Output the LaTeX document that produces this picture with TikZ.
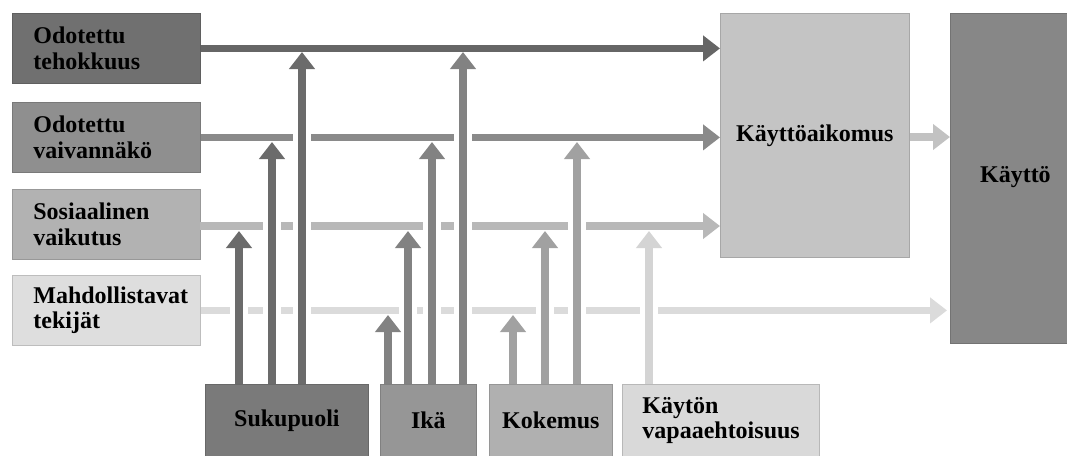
\documentclass[tikz,border=0pt]{standalone}
\usepackage{fontspec}
\setmainfont{Liberation Serif}
\usetikzlibrary{arrows.meta}
\definecolor{boxA}{gray}{0.44}
\definecolor{boxB}{gray}{0.56}
\definecolor{boxC}{gray}{0.70}
\definecolor{boxD}{gray}{0.87}
\definecolor{boxKA}{gray}{0.77}
\definecolor{boxKT}{gray}{0.53}
\definecolor{boxSU}{gray}{0.48}
\definecolor{boxIK}{gray}{0.59}
\definecolor{boxKO}{gray}{0.69}
\definecolor{boxKV}{gray}{0.85}
\definecolor{lnA}{gray}{0.40}
\definecolor{lnB}{gray}{0.54}
\definecolor{lnC}{gray}{0.72}
\definecolor{lnD}{gray}{0.86}
\definecolor{lnKA}{gray}{0.76}
\definecolor{vSU}{gray}{0.42}
\definecolor{vIK}{gray}{0.51}
\definecolor{vKO}{gray}{0.63}
\definecolor{vKV}{gray}{0.83}
\tikzset{
  box/.style={rectangle, draw=#1!85!black, fill=#1, line width=0.8pt, inner sep=0pt,
    font=\bfseries\fontsize{24}{25.5}\selectfont},
  lbox/.style={box=#1, anchor=north west, minimum width=188pt, minimum height=70pt,
    text width=146pt, align=left},
  bbox/.style={box=#1, anchor=north west, minimum height=72pt},
  conn/.style={line width=7.5pt, draw=#1, -{Triangle[width=25pt,length=17pt,fill=#1]}},
}
\begin{document}
\begin{tikzpicture}[x=1pt,y=-1pt]
\clip (0,0) rectangle (1067,455);
\fill[white] (0,0) rectangle (1067,455);
% left boxes
\node[lbox=boxA] (oe) at (12,13) {Odotettu\\tehokkuus};
\node[lbox=boxB] (ov) at (12,102) {Odotettu\\vaivannäkö};
\node[lbox=boxC] (sv) at (12,189) {Sosiaalinen\\vaikutus};
\node[lbox=boxD] (mt) at (12,275) {Mahdollistavat\\tekijät};
% right boxes
\node[box=boxKA, anchor=north west, minimum width=189pt, minimum height=244pt] (ka) at (720,13) {Käyttöaikomus};
\node[box=boxKT, anchor=north west, minimum width=130pt, minimum height=330pt] (kt) at (950,13) {\raisebox{8pt}{Käyttö}};
% bottom boxes
\node[bbox=boxSU, minimum width=163pt] (su) at (205,384) {Sukupuoli};
\node[bbox=boxIK, minimum width=96pt] (ik) at (380,384) {Ikä};
\node[bbox=boxKO, minimum width=123pt] (ko) at (489,384) {Kokemus};
\node[bbox=boxKV, minimum width=197pt, text width=157pt, align=left] (kv) at (622,384) {Käytön\\vapaaehtoisuus};
% horizontal connectors
\draw[conn=lnA] (oe.east) -- (ka.west |- oe.east);
\draw[conn=lnB] (ov.east) -- (ka.west |- ov.east);
\draw[conn=lnC] (200,226) -- (ka.west |- 0,226);
\draw[conn=lnD] (mt.east) -- ([xshift=-3pt]kt.west |- mt.east);
\draw[conn=lnKA] (ka.east |- 0,137) -- (kt.west |- 0,137);
% gaps where vertical arrows cross
\foreach \x/\y in {302/137,463/137,
  272/226,302/226,432/226,463/226,577/226,
  239/310,272/310,302/310,408/310,432/310,463/310,545/310,577/310,649/310}
  \fill[white] (\x-9,\y-6) rectangle (\x+9,\y+6);
% targets of vertical arrows
\coordinate (s1) at (239,231);
\coordinate (s2) at (272,142);
\coordinate (s3) at (302,52);
\coordinate (i1) at (388,315);
\coordinate (i2) at (408,231);
\coordinate (i3) at (432,142);
\coordinate (i4) at (463,52);
\coordinate (k1) at (513,315);
\coordinate (k2) at (545,231);
\coordinate (k3) at (577,142);
\coordinate (v1) at (649,231);
\foreach \t in {s1,s2,s3} \draw[conn=vSU] (\t |- su.north) -- (\t);
\foreach \t in {i1,i2,i3,i4} \draw[conn=vIK] (\t |- ik.north) -- (\t);
\foreach \t in {k1,k2,k3} \draw[conn=vKO] (\t |- ko.north) -- (\t);
\draw[conn=vKV] (v1 |- kv.north) -- (v1);
\end{tikzpicture}
\end{document}
